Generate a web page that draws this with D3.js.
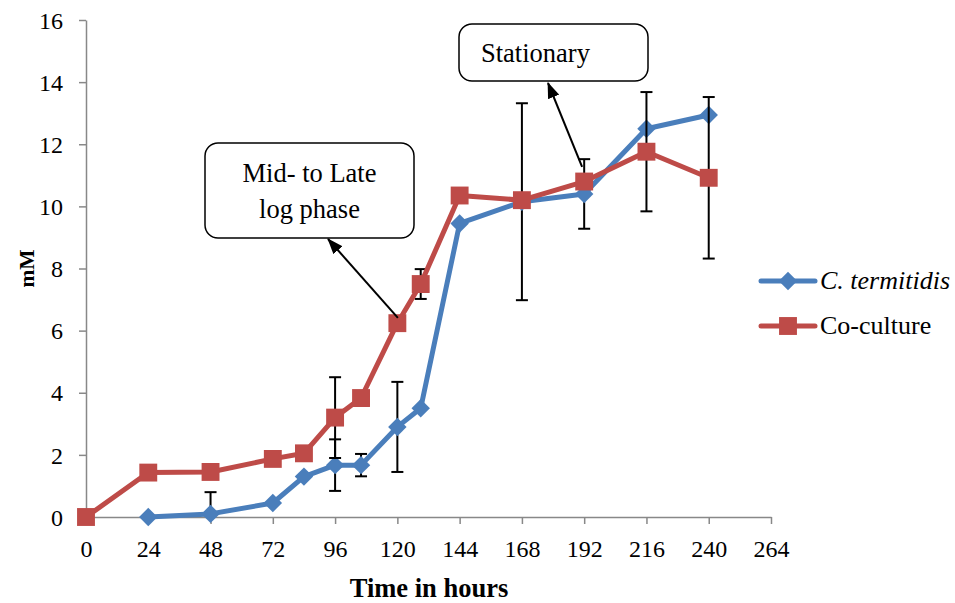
<!DOCTYPE html>
<html>
<head>
<meta charset="utf-8">
<script src="https://cdn.jsdelivr.net/npm/d3@7"></script>
<style>
  html, body { margin: 0; padding: 0; background: #fff; }
  svg { display: block; }
  text { font-family: "Liberation Serif", "Times New Roman", serif; fill: #000; }
</style>
</head>
<body>
<svg id="chart" width="955" height="603"></svg>
<script>
// Sampling times (hours) and measured concentrations (mM)
const timesTermitidis = [24, 48, 72, 84, 96, 106, 120, 129, 144, 168, 192, 216, 240];
const valuesTermitidis = [0, 0.1, 0.45, 1.3, 1.67, 1.67, 2.9, 3.5, 9.45, 10.15, 10.4, 12.5, 12.94];
const errorsTermitidis = [0, 0.7, 0, 0, 0.83, 0.36, 1.45, 0, 0, 3.17, 1.12, 0, 0];

const timesCoculture = [0, 24, 48, 72, 84, 96, 106, 120, 129, 144, 168, 192, 216, 240];
const valuesCoculture = [0, 1.43, 1.45, 1.87, 2.05, 3.2, 3.83, 6.24, 7.5, 10.35, 10.2, 10.8, 11.76, 10.92];
const errorsCoculture = [0, 0, 0, 0, 0, 1.3, 0, 0, 0.48, 0, 0, 0, 1.92, 2.6];

const xTicks = [0, 24, 48, 72, 96, 120, 144, 168, 192, 216, 240, 264];
const yTicks = [0, 2, 4, 6, 8, 10, 12, 14, 16];

const seriesNames = ["C. termitidis", "Co-culture"];
const xTitle = "Time in hours";
const yTitle = "mM";

// Callouts: text lines, box [x, y, w, h] and arrow tip in pixels, arrow tail in data units
const callouts = [
  { lines: ["Mid- to Late", "log phase"], box: [205, 143, 209, 95], textX: null, tip: [328, 239], tail: [120.2, 6.41] },
  { lines: ["Stationary"], box: [459, 24, 189, 57], textX: 481, tip: [548, 83], tail: [191.2, 11.27] }
];

const svg = d3.select("#chart");
const plot = { left: 86, right: 771, top: 20, bottom: 517 };
const axisColor = "#888888";
const colors = ["#4A7EBB", "#BE4B48"];

const x = d3.scaleLinear().domain([0, 264]).range([plot.left, plot.right]);
const y = d3.scaleLinear().domain([0, 16]).range([plot.bottom, plot.top]);

const defs = svg.append("defs");
defs.append("clipPath").attr("id", "plotClip")
  .append("rect")
  .attr("x", plot.left - 20).attr("y", plot.top)
  .attr("width", plot.right - plot.left + 40).attr("height", plot.bottom - plot.top);

defs.append("marker")
  .attr("id", "arrowHead")
  .attr("viewBox", "0 0 16 12")
  .attr("refX", 15).attr("refY", 6)
  .attr("markerWidth", 16).attr("markerHeight", 12)
  .attr("markerUnits", "userSpaceOnUse")
  .attr("orient", "auto")
  .append("path").attr("d", "M0,0 L16,6 L0,12 Z").attr("fill", "#000");

// Axes
const xAxis = svg.append("g")
  .attr("transform", `translate(0,${plot.bottom})`)
  .call(d3.axisBottom(x).tickValues(xTicks).tickSize(7).tickPadding(16).tickSizeOuter(0));
const yAxis = svg.append("g")
  .attr("transform", `translate(${plot.left},0)`)
  .call(d3.axisLeft(y).tickValues(yTicks).tickSize(7).tickPadding(16).tickSizeOuter(0));

[xAxis, yAxis].forEach(g => {
  g.select(".domain").attr("stroke", axisColor).attr("stroke-width", 1.5);
  g.selectAll(".tick line").attr("stroke", axisColor).attr("stroke-width", 1.5);
  g.selectAll(".tick text")
    .attr("font-family", "Liberation Serif, serif")
    .attr("font-size", 24).attr("fill", "#000");
});
yAxis.selectAll(".tick text").attr("dy", "0.34em");

svg.append("text")
  .attr("x", 429).attr("y", 597)
  .attr("text-anchor", "middle")
  .attr("font-size", 26.5).attr("font-weight", "bold")
  .text(xTitle);

svg.append("text")
  .attr("transform", `translate(34,${y(8)}) rotate(-90)`)
  .attr("text-anchor", "middle")
  .attr("font-size", 21.5).attr("font-weight", "bold")
  .text(yTitle);

// Series
const series = [
  { times: timesTermitidis, values: valuesTermitidis, errors: errorsTermitidis, shape: "diamond" },
  { times: timesCoculture, values: valuesCoculture, errors: errorsCoculture, shape: "square" }
];

const diamondPath = d3.symbol().type(d3.symbolSquare).size(170)();
const squarePath = d3.symbol().type(d3.symbolSquare).size(320)();

series.forEach((s, i) => {
  const pts = s.times.map((t, k) => ({ t, v: s.values[k], e: s.errors[k] }));
  const g = svg.append("g");

  // error bars
  const eb = g.append("g").attr("clip-path", "url(#plotClip)")
    .selectAll("g").data(pts.filter(p => p.e > 0)).join("g")
    .attr("stroke", "#000").attr("stroke-width", 2);
  eb.append("line")
    .attr("x1", p => x(p.t)).attr("x2", p => x(p.t))
    .attr("y1", p => y(p.v + p.e)).attr("y2", p => y(p.v - p.e));
  eb.append("line")
    .attr("x1", p => x(p.t) - 6).attr("x2", p => x(p.t) + 6)
    .attr("y1", p => y(p.v + p.e)).attr("y2", p => y(p.v + p.e));
  eb.append("line")
    .attr("x1", p => x(p.t) - 6).attr("x2", p => x(p.t) + 6)
    .attr("y1", p => y(p.v - p.e)).attr("y2", p => y(p.v - p.e));

  g.append("path")
    .datum(pts)
    .attr("fill", "none")
    .attr("stroke", colors[i])
    .attr("stroke-width", 5)
    .attr("stroke-linejoin", "round")
    .attr("d", d3.line().x(p => x(p.t)).y(p => y(p.v)));

  g.selectAll("path.mk").data(pts).join("path")
    .attr("class", "mk")
    .attr("fill", colors[i])
    .attr("d", s.shape === "diamond" ? diamondPath : squarePath)
    .attr("transform", p => `translate(${x(p.t)},${y(p.v)})` + (s.shape === "diamond" ? " rotate(45)" : ""));
});

// Legend
const legend = svg.append("g");
seriesNames.forEach((name, i) => {
  const ly = 281 + i * 45;
  legend.append("line")
    .attr("x1", 761).attr("x2", 815).attr("y1", ly).attr("y2", ly)
    .attr("stroke", colors[i]).attr("stroke-width", 5).attr("stroke-linecap", "round");
  legend.append("path")
    .attr("fill", colors[i])
    .attr("d", i === 0 ? diamondPath : squarePath)
    .attr("transform", `translate(788,${ly})` + (i === 0 ? " rotate(45)" : ""));
  legend.append("text")
    .attr("x", 820).attr("y", ly + 8)
    .attr("font-size", 26)
    .attr("font-style", i === 0 ? "italic" : "normal")
    .text(name);
});

// Callouts
callouts.forEach(c => {
  const [bx, by, bw, bh] = c.box;
  const g = svg.append("g");
  g.append("rect")
    .attr("x", bx).attr("y", by).attr("width", bw).attr("height", bh)
    .attr("rx", 13).attr("ry", 13)
    .attr("fill", "#fff").attr("stroke", "#000").attr("stroke-width", 1.5);
  const lh = 36;
  const startY = by + bh / 2 - (c.lines.length - 1) * lh / 2;
  c.lines.forEach((line, k) => {
    g.append("text")
      .attr("x", c.textX === null ? bx + bw / 2 : c.textX)
      .attr("y", startY + k * lh)
      .attr("dy", "0.35em")
      .attr("text-anchor", c.textX === null ? "middle" : "start")
      .attr("font-size", 26.5)
      .text(line);
  });
  g.append("line")
    .attr("x1", x(c.tail[0])).attr("y1", y(c.tail[1]))
    .attr("x2", c.tip[0]).attr("y2", c.tip[1])
    .attr("stroke", "#000").attr("stroke-width", 2)
    .attr("marker-end", "url(#arrowHead)");
});
</script>
</body>
</html>
